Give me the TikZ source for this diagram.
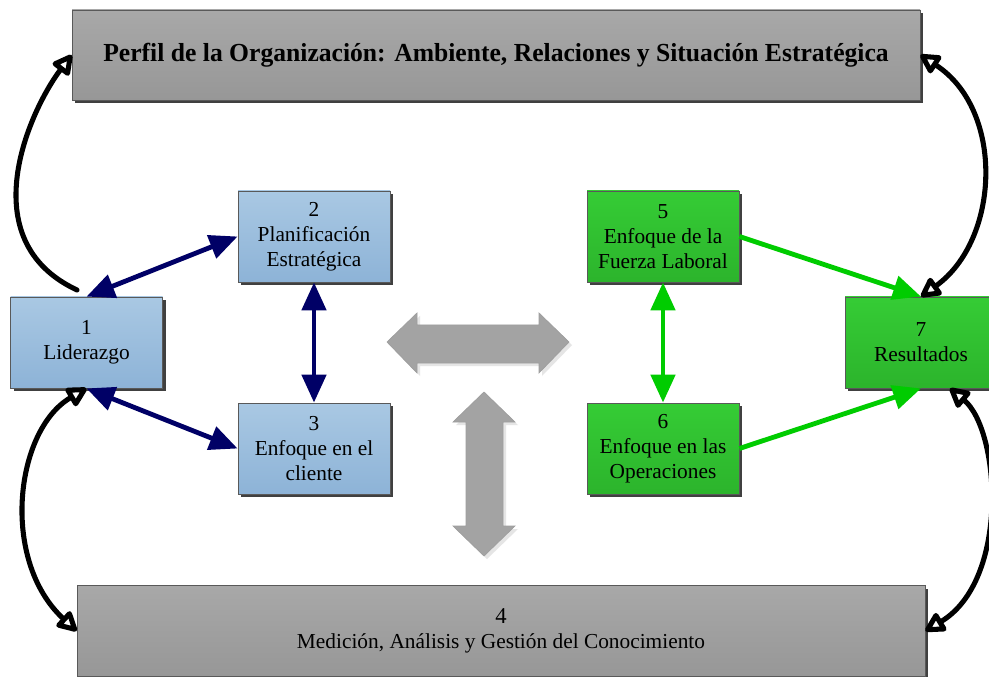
\documentclass[tikz,border=0pt]{standalone}
\usepackage{fontspec}
\setmainfont{Liberation Serif}
\usepackage{graphicx}
\usetikzlibrary{arrows.meta,shadows}
\definecolor{navyc}{HTML}{000066}
\definecolor{greenc}{HTML}{00CC00}
\definecolor{blueT}{HTML}{A9C8E3}
\definecolor{blueB}{HTML}{8DB3D7}
\definecolor{greenT}{HTML}{35CC35}
\definecolor{greenB}{HTML}{2CB42C}
\definecolor{grayT}{HTML}{A8A8A8}
\definecolor{grayB}{HTML}{979797}
\definecolor{blockc}{HTML}{A3A3A3}
\begin{document}
\begin{tikzpicture}[x=0.75pt,y=-0.75pt,
  box/.style={draw=black!65, line width=0.6pt, align=center, inner sep=0pt,
    font=\fontsize{16}{18.75}\selectfont,
    drop shadow={shadow xshift=2.6pt, shadow yshift=-2.6pt, fill=black!75, opacity=1}},
  smallbox/.style={box, minimum width=114pt, minimum height=68.25pt},
  bluebox/.style={smallbox, top color=blueT, bottom color=blueB},
  greenbox/.style={smallbox, top color=greenT, bottom color=greenB},
  graybox/.style={box, minimum width=636pt, top color=grayT, bottom color=grayB},
  navyarrow/.style={draw=navyc, line width=3.6pt, <->, >={Triangle[length=21pt,width=18pt]}},
  greenarrow/.style={draw=greenc, line width=3.6pt, >={Triangle[length=21pt,width=18pt]}},
  blackarrow/.style={draw=black, line width=3.8pt, line cap=round,
    >={Triangle[length=17pt,width=17pt,open,fill=white,line join=round]}},
  blockarrow/.style={draw=black!38, line width=0.5pt, fill=blockc}
]
\useasboundingbox (0,0) rectangle (989,677);
\clip (0,0) rectangle (989,677);
\fill[white] (0,0) rectangle (989,677);

% boxes
\node[graybox, minimum height=67.5pt] (tb) at (496,55)
  {\resizebox{589pt}{\height}{\fontsize{19.5}{22}\selectfont\bfseries Perfil de la Organización: Ambiente, Relaciones y Situación Estratégica}};
\node[graybox, minimum height=68pt] (b4) at (501,631)
  {\fontsize{17}{22.5}\selectfont 4\\\resizebox{306pt}{\height}{Medición, Análisis y Gestión del Conocimiento}};
\node[bluebox] (b1) at (86.5,342.5) {1\\Liderazgo};
\node[bluebox] (b2) at (314,236.5) {2\\Planificación\\Estratégica};
\node[bluebox] (b3) at (314,448.5) {3\\Enfoque en el\\cliente};
\node[greenbox] (b5) at (663,236.5) {5\\Enfoque de la\\Fuerza Laboral};
\node[greenbox] (b6) at (663,448.5) {6\\Enfoque en las\\Operaciones};
\node[greenbox] (b7) at (921,342.5) {7\\Resultados};

% block arrows
\fill[black!10] (390,345) -- (420,316) -- (420,328) -- (542,328) -- (542,316) -- (572,345)
  -- (542,376) -- (542,366) -- (420,366) -- (420,376) -- cycle;
\path[blockarrow] (387,342) -- (417,313) -- (417,325) -- (539,325) -- (539,313) -- (569,342)
  -- (539,373) -- (539,363) -- (417,363) -- (417,373) -- cycle;
\fill[black!10] (487,395) -- (518,425) -- (506,425) -- (506,529) -- (518,529) -- (487,559)
  -- (456,529) -- (469,529) -- (469,425) -- (456,425) -- cycle;
\path[blockarrow] (484,392) -- (515,422) -- (503,422) -- (503,526) -- (515,526) -- (484,556)
  -- (453,526) -- (466,526) -- (466,422) -- (453,422) -- cycle;

% navy connectors
\draw[navyarrow] (b1.north) -- (b2.west);
\draw[navyarrow] (b1.south) -- (b3.west);
\draw[navyarrow] (b2.south) -- (b3.north);

% green connectors
\draw[greenarrow, ->] (b5.east) -- (b7.north);
\draw[greenarrow, ->] (b6.east) -- (b7.south);
\draw[greenarrow, <->] (b5.south) -- (b6.north);

% black curved connectors
\coordinate (tl) at (77,290);
\draw[blackarrow, ->] (tl) .. controls (-30,240) and (30,110) .. (tb.west);
\draw[blackarrow, <->] (b7.north) .. controls (1000,240) and (1005,110) .. (tb.east);
\draw[blackarrow, <->] (b1.south) .. controls (15,430) and (0,560) .. (b4.west);
\draw[blackarrow, <->] ([xshift=21.75pt]b7.south) .. controls (1000,430) and (1010,580) .. (b4.east);
\end{tikzpicture}
\end{document}
